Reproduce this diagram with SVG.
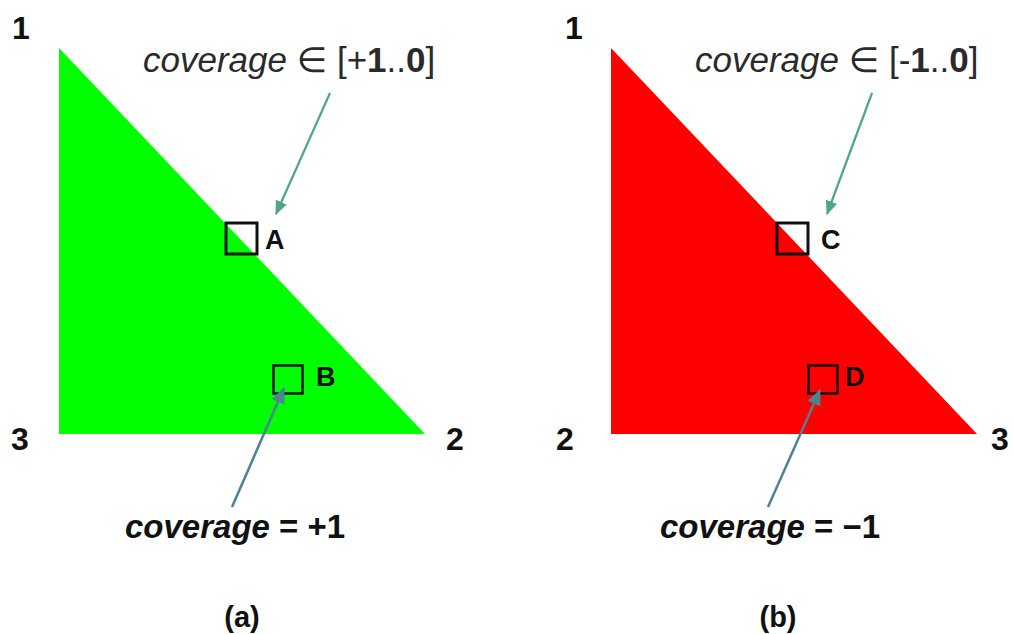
<svg xmlns="http://www.w3.org/2000/svg" width="1014" height="634" viewBox="0 0 1014 634">
<style>
text{font-family:"Liberation Sans",Arial,"DejaVu Sans",sans-serif;fill:#111}
.num{font-size:32px;font-weight:bold}
.lbl{font-size:27px;font-weight:bold}
.top{font-size:35px;fill:#2a2a2a}
.bot{font-size:33px;font-weight:bold}
.cap{font-size:29px;font-weight:bold}
.it{font-style:italic}
.b{font-weight:bold}
.box{fill:none;stroke:#111;stroke-width:3}
.boxs{fill:none;stroke:#111;stroke-width:2.5}
.ag{stroke:#4fa682;stroke-width:2.2;fill:none}
.ab{stroke:#4d8193;stroke-width:2.5;fill:none}
</style>
<defs>
<marker id="mg" markerWidth="14" markerHeight="12" refX="13" refY="6" orient="auto" markerUnits="userSpaceOnUse"><path d="M0,0 L14,6 L0,12 z" fill="#4fa682"/></marker>
<marker id="mb" markerWidth="16" markerHeight="14" refX="15" refY="7" orient="auto" markerUnits="userSpaceOnUse"><path d="M0,0 L16,7 L0,14 z" fill="#4d8193"/></marker>
</defs>
<rect width="1014" height="634" fill="#fff"/>

<g id="panel-a">
<g id="tri-a"><polygon points="59,48 59,434 425,434" fill="#00ff00"/></g>
<g id="v1a"><text class="num" x="12" y="39">1</text></g>
<g id="v3a"><text class="num" x="11" y="450">3</text></g>
<g id="v2a"><text class="num" x="446" y="450">2</text></g>
<g id="pixA"><rect class="box" x="226" y="223" width="31" height="31"/><text class="lbl" x="265" y="249">A</text></g>
<g id="pixB"><rect class="boxs" x="273.5" y="365.5" width="29" height="28"/><text class="lbl" x="316" y="386">B</text></g>
<g id="labA"><text class="top" x="143" y="72"><tspan class="it">coverage</tspan> ∈ [+<tspan class="b">1</tspan>..<tspan class="b">0</tspan>]</text></g>
<g id="labB"><text class="bot" x="125" y="538"><tspan class="it">coverage</tspan> = +1</text></g>
<g id="capA"><text class="cap" x="242" y="627" text-anchor="middle">(a)</text></g>
</g>

<g id="panel-b">
<g id="tri-b"><polygon points="611,48 611,434 977,434" fill="#ff0000"/></g>
<g id="v1b"><text class="num" x="565" y="39">1</text></g>
<g id="v2b"><text class="num" x="556" y="450">2</text></g>
<g id="v3b"><text class="num" x="991" y="450">3</text></g>
<g id="pixC"><rect class="box" x="777" y="223" width="31" height="31"/><text class="lbl" x="821" y="249">C</text></g>
<g id="pixD"><rect class="boxs" x="808.5" y="365.5" width="29" height="28"/><text class="lbl" x="845" y="386">D</text></g>
<g id="labC"><text class="top" x="695" y="72"><tspan class="it">coverage</tspan> ∈ [-<tspan class="b">1</tspan>..<tspan class="b">0</tspan>]</text></g>
<g id="labD"><text class="bot" x="660" y="538"><tspan class="it">coverage</tspan> = −1</text></g>
<g id="capB"><text class="cap" x="778" y="627" text-anchor="middle">(b)</text></g>
</g>

<g id="connectors">
<line class="ag" x1="330" y1="93" x2="276" y2="214" marker-end="url(#mg)"/>
<line class="ab" x1="232" y1="507" x2="284" y2="388" marker-end="url(#mb)"/>
<line class="ag" x1="872" y1="93" x2="827" y2="214" marker-end="url(#mg)"/>
<line class="ab" x1="768" y1="507" x2="820" y2="390" marker-end="url(#mb)"/>
</g>
</svg>
